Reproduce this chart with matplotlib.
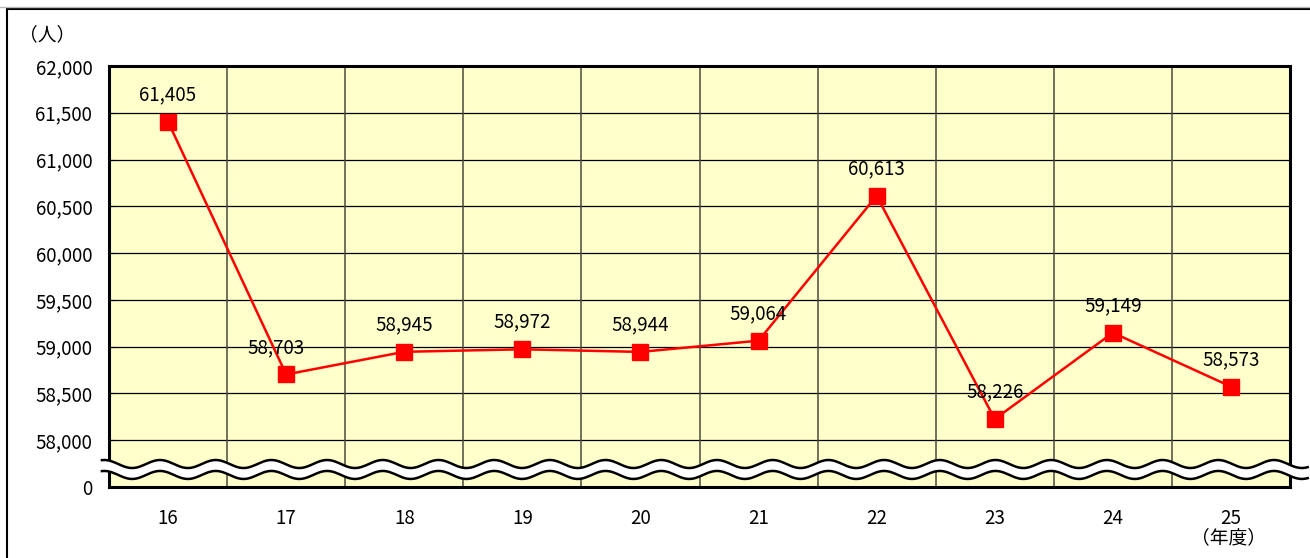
import matplotlib
matplotlib.use("Agg")
import matplotlib.pyplot as plt
import numpy as np
from matplotlib.patches import Rectangle

plt.rcParams['font.family'] = ['Noto Sans CJK JP', 'DejaVu Sans']

years = ["16", "17", "18", "19", "20", "21", "22", "23", "24", "25"]
values = [61405, 58703, 58945, 58972, 58944, 59064, 60613, 58226, 59149, 58573]
ytick_vals = [57500, 58000, 58500, 59000, 59500, 60000, 60500, 61000, 61500, 62000]
ytick_labels = ["0", "58,000", "58,500", "59,000", "59,500", "60,000",
                "60,500", "61,000", "61,500", "62,000"]

W, H = 1310, 558
fig = plt.figure(figsize=(W / 100, H / 100), dpi=100)
fig.patch.set_facecolor("white")

# outer frame
fig.add_artist(plt.Line2D([0, 1], [1 - 7 / H, 1 - 7 / H], transform=fig.transFigure,
                          color="#b8b8b8", lw=1.0))
fig.add_artist(Rectangle((7 / W, -0.05), 1.2, 1 - 9 / H + 0.05, transform=fig.transFigure,
                         fill=False, edgecolor="black", lw=1.5))

left, right, top, bottom = 109, 1290, 66, 487
ax = fig.add_axes([left / W, 1 - bottom / H, (right - left) / W, (bottom - top) / H])
ax.set_facecolor("#FFFFCC")

x = np.arange(len(years))
ax.set_xlim(-0.5, len(years) - 0.5)
ax.set_ylim(57500, 62000)

# grid
for yv in ytick_vals[1:-1]:
    ax.axhline(yv, color="black", lw=0.9, zorder=1)
for xv in np.arange(0.5, len(years) - 0.5, 1):
    ax.axvline(xv, color="#4a4a3a", lw=1.1, zorder=1)

ax.plot(x, values, color="#FF0000", lw=1.8, marker="s", markersize=11,
        markerfacecolor="#FF0000", markeredgecolor="#FF0000", zorder=4)

for i, v in enumerate(values):
    dx = -10 if i == 1 else 0
    ax.annotate(f"{v:,}", (i, v), xytext=(dx * 0.72, 19.5), textcoords="offset points",
                ha="center", va="center", fontsize=13.5, color="black", zorder=5)

ax.set_yticks(ytick_vals)
ax.set_yticklabels(ytick_labels, fontsize=13.5)
ax.set_xticks(x)
ax.set_xticklabels(years, fontsize=13.5)
ax.tick_params(axis="y", direction="in", length=4, pad=12, width=0.8)
ax.tick_params(axis="x", length=0, pad=15)

for s in ax.spines.values():
    s.set_linewidth(2.2)
    s.set_color("black")
    s.set_zorder(6)

# wavy break
xs = np.linspace(-0.006, 1.015, 600)
period = 55.7 / (right - left)
amp = 4.0 / (bottom - top)
phase = (160 - left) / (right - left)
y1 = 0.0546 + amp * np.cos(2 * np.pi * (xs - phase) / period)
y2 = y1 - 0.026
ax.fill_between(xs, y2, y1, transform=ax.transAxes, color="white", zorder=7, clip_on=False, lw=0)
ax.plot(xs, y1, transform=ax.transAxes, color="black", lw=1.8, zorder=8, clip_on=False)
ax.plot(xs, y2, transform=ax.transAxes, color="black", lw=1.8, zorder=8, clip_on=False)

fig.text(47 / W, 1 - 35 / H, "（人）", ha="center", va="center", fontsize=13.5)
fig.text(1229 / W, 1 - 538 / H, "（年度）", ha="center", va="center", fontsize=13.5)

fig.savefig("out.png", dpi=100, facecolor="white")
